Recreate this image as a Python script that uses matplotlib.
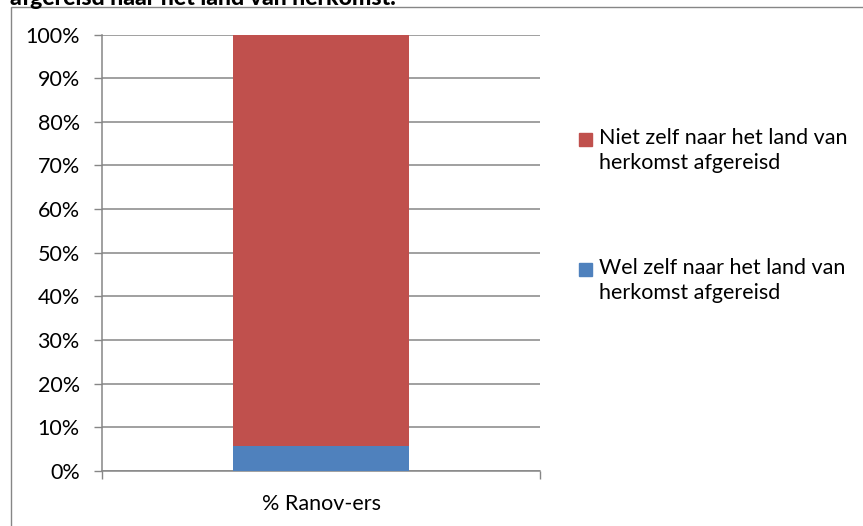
"""Stacked 100% bar: Ranov-ers die wel/niet zelf zijn afgereisd."""

import matplotlib

matplotlib.use("Agg")

import matplotlib.pyplot as plt
from matplotlib.patches import Rectangle
from matplotlib.ticker import FixedLocator, PercentFormatter

# Data.
CATEGORIES = ["% Ranov-ers"]
SERIES = ["Wel zelf naar het land van\nherkomst afgereisd",
          "Niet zelf naar het land van\nherkomst afgereisd"]
WEL = [5.7]
NIET = [94.3]
COLORS = ["#4F81BD", "#C0504D"]
TITLE = "afgereisd naar het land van herkomst."

W, H = 863, 526
GRID = "#868686"
FONT = ["Lato", "DejaVu Sans"]

plt.rcParams["font.family"] = FONT
plt.rcParams["font.size"] = 15.5

fig = plt.figure(figsize=(W / 100, H / 100), dpi=100)

# outer chart frame (extends past the right and bottom of the image)
fig.patches.append(Rectangle((11 / W, -0.1), 1.2, 1 - 7 / H + 0.1,
                             transform=fig.transFigure, fill=False,
                             edgecolor=GRID, lw=1.0))
# title is cut off at the top edge, as in the source image
fig.text(10 / W, 1 - 5 / H, TITLE, fontweight="black", fontsize=16.6,
         va="baseline", ha="left")

ax = fig.add_axes([102 / W, (H - 470.7) / H, (540 - 102) / W, (470.7 - 34.7) / H])
x = list(range(len(CATEGORIES)))
ax.bar(x, WEL, width=0.4, color=COLORS[0], zorder=3)
ax.bar(x, NIET, width=0.4, bottom=WEL, color=COLORS[1], zorder=3)

ax.set_xlim(-0.5, 0.5)
ax.set_ylim(0, 100)
ax.set_yticks(range(0, 101, 10))
ax.yaxis.set_major_formatter(PercentFormatter(decimals=0))
ax.tick_params(axis="y", length=6, width=1.0, color=GRID, pad=10)
ax.yaxis.grid(True, color=GRID, lw=1.1)
ax.set_axisbelow(True)

ax.set_xticks(x)
ax.set_xticklabels(CATEGORIES)
ax.xaxis.set_minor_locator(FixedLocator([-0.5, 0.5]))
ax.tick_params(axis="x", which="major", length=0, pad=17)
ax.tick_params(axis="x", which="minor", length=6, width=1.0, color=GRID)

for side in ("top", "right"):
    ax.spines[side].set_visible(False)
for side in ("left", "bottom"):
    ax.spines[side].set_color(GRID)
    ax.spines[side].set_linewidth(1.1)

# legend, top entry is the top segment
legend_rows = [(SERIES[1], COLORS[1], 133), (SERIES[0], COLORS[0], 263)]
for label, color, top in legend_rows:
    fig.patches.append(Rectangle((579 / W, 1 - (top + 13) / H), 13 / W, 13 / H,
                                 transform=fig.transFigure, color=color))
    fig.text(599 / W, 1 - (top - 5) / H, label, va="top", ha="left",
             linespacing=1.3)

fig.savefig("out.png", dpi=100)
